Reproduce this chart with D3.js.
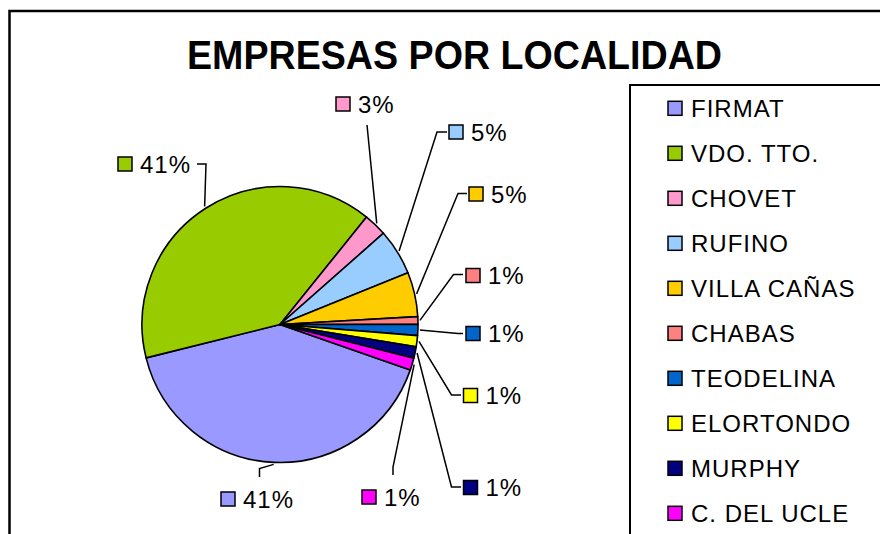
<!DOCTYPE html>
<html>
<head>
<meta charset="utf-8">
<script src="https://cdn.jsdelivr.net/npm/d3@7"></script>
<style>
  body { margin: 0; background: #fff; }
  svg { display: block; font-family: "Liberation Sans", Arial, sans-serif; }
</style>
</head>
<body>
<div id="viz"></div>
<script>
// localities, in legend order (also the clockwise slice order)
let localidades = ['FIRMAT', 'VDO. TTO.', 'CHOVET', 'RUFINO', 'VILLA CAÑAS', 'CHABAS', 'TEODELINA', 'ELORTONDO', 'MURPHY', 'C. DEL UCLE'];
// share of companies, %
let shares = [40.8, 39.7, 2.7, 5.4, 5.2, 0.9, 1.3, 1.3, 1.35, 1.4];
// the labels as printed on the chart
let etiquetas = ['41%', '41%', '3%', '5%', '5%', '1%', '1%', '1%', '1%', '1%'];
let colores = ['#9999FF', '#99CC00', '#FF99CC', '#99CCFF', '#FFCC00', '#FF8080', '#0066CC', '#FFFF00', '#000080', '#FF00FF'];

const width = 880, height = 534;
const cx = 280, cy = 324.5, radius = 138;

// where each data label sits (square left edge, vertical centre) and how its leader bends
let labelLayout = [
  { x: 221, y: 499, elbow: [259.5, 468.5], end: [259.5, 477] },
  { x: 118, y: 164, elbow: [206, 164], end: [197, 164] },
  { x: 336, y: 104, elbow: null, end: [367, 125] },
  { x: 449, y: 132, elbow: [437, 132], end: [447, 132] },
  { x: 469, y: 194, elbow: [458, 193.5], end: [467, 193.5] },
  { x: 466, y: 275.5, elbow: [453.5, 274.5], end: [463, 274.5] },
  { x: 466, y: 333.5, elbow: [458, 333.5], end: [463, 333.5] },
  { x: 463.5, y: 395.5, elbow: [451.5, 395], end: [461, 395] },
  { x: 463.5, y: 487.5, elbow: [451.5, 487], end: [461, 487] },
  { x: 362, y: 497, elbow: [393, 467], end: [393, 475] }
];

const svg = d3.select('#viz').append('svg')
  .attr('width', width)
  .attr('height', height);

// chart frame (runs off the right and bottom)
svg.append('rect')
  .attr('x', 9.5).attr('y', 11)
  .attr('width', 900).attr('height', 560)
  .attr('fill', 'none').attr('stroke', '#000').attr('stroke-width', 2.5);

svg.append('text')
  .attr('x', 187).attr('y', 69)
  .attr('font-size', 41).attr('font-weight', 'bold')
  .attr('textLength', 535).attr('lengthAdjust', 'spacingAndGlyphs')
  .text('EMPRESAS POR LOCALIDAD');

const startA = 109.2 * Math.PI / 180;
const pie = d3.pie().sort(null).startAngle(startA).endAngle(startA + 2 * Math.PI);
const arcs = pie(shares);
const arc = d3.arc().innerRadius(0).outerRadius(radius);

const g = svg.append('g').attr('transform', `translate(${cx},${cy})`);

g.selectAll('path.slice')
  .data(arcs)
  .join('path')
    .attr('class', 'slice')
    .attr('d', arc)
    .attr('fill', (d, i) => colores[i])
    .attr('stroke', '#000')
    .attr('stroke-width', 1.6)
    .attr('stroke-linejoin', 'round');

// leader lines: from just outside the slice's mid arc to the label
const line = d3.line();
svg.selectAll('path.leader')
  .data(arcs)
  .join('path')
    .attr('class', 'leader')
    .attr('fill', 'none')
    .attr('stroke', '#000')
    .attr('stroke-width', 1.5)
    .attr('d', (d, i) => {
      let a = (d.startAngle + d.endAngle) / 2;
      let r = radius + 2;
      let p0 = [cx + r * Math.sin(a), cy - r * Math.cos(a)];
      let L = labelLayout[i];
      let pts = L.elbow ? [p0, L.elbow, L.end] : [p0, L.end];
      return line(pts);
    });

// data labels
const lab = svg.selectAll('g.lab')
  .data(etiquetas)
  .join('g')
    .attr('class', 'lab')
    .attr('transform', (d, i) => `translate(${labelLayout[i].x},${labelLayout[i].y})`);

lab.append('rect')
  .attr('x', 0).attr('y', -7)
  .attr('width', 14).attr('height', 14)
  .attr('fill', (d, i) => colores[i])
  .attr('stroke', '#000').attr('stroke-width', 1.5);

lab.append('text')
  .attr('x', 22).attr('y', 8.5)
  .attr('font-size', 24)
  .attr('letter-spacing', 1)
  .text(d => d);

// legend
svg.append('rect')
  .attr('x', 630).attr('y', 85)
  .attr('width', 300).attr('height', 500)
  .attr('fill', 'none').attr('stroke', '#000').attr('stroke-width', 2);

const legendY = d3.scalePoint()
  .domain(localidades)
  .range([108.3, 513.3]);

const leg = svg.selectAll('g.leg')
  .data(localidades)
  .join('g')
    .attr('class', 'leg')
    .attr('transform', d => `translate(668,${legendY(d)})`);

leg.append('rect')
  .attr('x', 0).attr('y', -7)
  .attr('width', 14).attr('height', 14)
  .attr('fill', (d, i) => colores[i])
  .attr('stroke', '#000').attr('stroke-width', 1.5);

leg.append('text')
  .attr('x', 23).attr('y', 8.5)
  .attr('font-size', 24)
  .attr('letter-spacing', 1)
  .text(d => d);
</script>
</body>
</html>
